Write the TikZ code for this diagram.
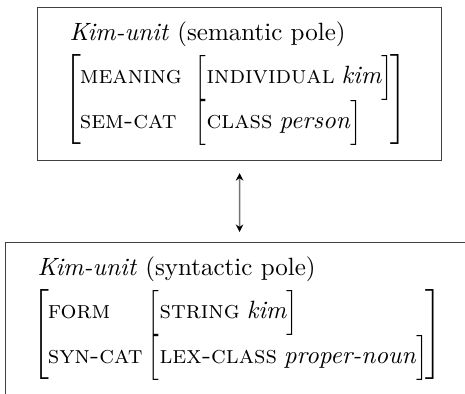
\documentclass[tikz,border=0pt]{standalone}
\usepackage{amsmath}
\usepackage{fontspec}
\usetikzlibrary{arrows.meta}
\newcommand{\feat}[1]{{\addfontfeatures{LetterSpace=3}\scshape #1}}
\newcommand{\val}[1]{\textit{#1}}
\newcommand{\subavm}[2]{$\Bigl[\text{\feat{#1}}\;\text{\val{#2}}\Bigr]$}
\tikzset{
  polebox/.style={draw=black!75, line width=0.45pt, anchor=north west,
    align=left, inner xsep=12.8pt, inner ysep=0pt, minimum height=61.2pt},
  link/.style={draw=black!55, line width=0.6pt, {Stealth[black,length=3pt,width=3pt]}-{Stealth[black,length=3pt,width=3pt]},
    shorten <=4.8pt, shorten >=4pt}
}
\begin{document}
\begin{tikzpicture}[x=0.4pt,y=0.4pt]
  \useasboundingbox (0,0) rectangle (465,-393);
  \clip (0,0) rectangle (465,-393);
  % semantic pole
  \node[polebox, text width=136pt] (sem) at (37,-7) {%
    \val{Kim-unit} (semantic pole)\\[1pt]
    \hspace*{-2pt}$\left[\mkern-1mu\begin{tabular}{@{}p{46pt}@{}l@{}}
      \rule{0pt}{12.8pt}\feat{meaning} & \subavm{individual}{kim}\\[1pt]
      \feat{sem-cat} & \subavm{class}{person}\rule[-7pt]{0pt}{7pt}
      \end{tabular}\mkern-2mu\right]$};
  % syntactic pole
  \node[polebox, text width=161.6pt] (syn) at (5,-242) {%
    \val{Kim-unit} (syntactic pole)\\[1pt]
    \hspace*{-2pt}$\left[\mkern-1mu\begin{tabular}{@{}p{40pt}@{}l@{}}
      \rule{0pt}{12.8pt}\feat{form} & \subavm{string}{kim}\\[1pt]
      \feat{syn-cat} & \subavm{lex-class}{proper-noun}\rule[-7pt]{0pt}{7pt}
      \end{tabular}\mkern-2mu\right]$};
  \draw[link] (sem) -- (syn);
\end{tikzpicture}
\end{document}
